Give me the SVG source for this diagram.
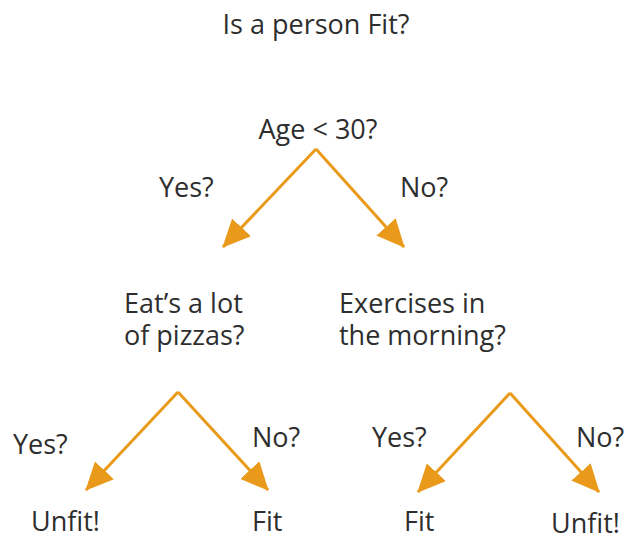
<svg xmlns="http://www.w3.org/2000/svg" width="626" height="541" viewBox="0 0 626 541">
<style>
text{font-family:"Open Sans","Liberation Sans",sans-serif;font-size:27px;fill:#2e2e2e}
.c{stroke:#EA9A1A;stroke-width:3;fill:none}
</style>
<defs>
<marker id="ah" viewBox="0 0 28 26" refX="27" refY="13" markerWidth="28" markerHeight="26" markerUnits="userSpaceOnUse" orient="auto">
<path d="M0,0 L28,13 L0,26 z" fill="#EA9A1A"/>
</marker>
</defs>
<rect width="626" height="541" fill="#ffffff"/>
<g id="title"><text x="316" y="34" text-anchor="middle">Is a person Fit?</text></g>
<g id="age"><text x="318" y="139" text-anchor="middle">Age &lt; 30?</text></g>
<g id="pizza"><text x="124" y="313">Eat’s a lot<tspan x="124" y="345">of pizzas?</tspan></text></g>
<g id="exercise"><text x="339" y="313">Exercises in<tspan x="339" y="345">the morning?</tspan></text></g>
<g id="unfit1"><text x="31" y="531">Unfit!</text></g>
<g id="fit1"><text x="252" y="531">Fit</text></g>
<g id="fit2"><text x="404" y="531">Fit</text></g>
<g id="unfit2"><text x="551" y="533">Unfit!</text></g>
<g id="connectors">
<path class="c" d="M316,149 L223,247" marker-end="url(#ah)"/>
<path class="c" d="M316,149 L404,247" marker-end="url(#ah)"/>
<path class="c" d="M178,392 L86,490" marker-end="url(#ah)"/>
<path class="c" d="M178,392 L268,490" marker-end="url(#ah)"/>
<path class="c" d="M510,393 L418,492" marker-end="url(#ah)"/>
<path class="c" d="M510,393 L599,492" marker-end="url(#ah)"/>
<text x="159" y="197">Yes?</text>
<text x="400" y="197">No?</text>
<text x="13" y="454">Yes?</text>
<text x="252" y="447">No?</text>
<text x="372" y="447">Yes?</text>
<text x="576" y="447">No?</text>
</g>
</svg>
